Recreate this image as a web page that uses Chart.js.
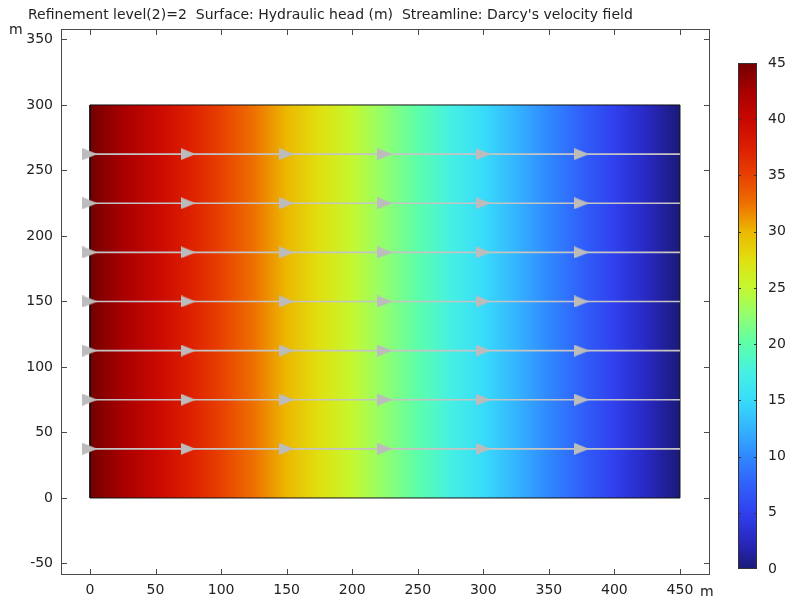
<!DOCTYPE html>
<html>
<head>
<meta charset="utf-8">
<script src="https://cdn.jsdelivr.net/npm/chart.js@4"></script>
<style>
  body { margin: 0; background: #fff; }
  #wrap { position: relative; width: 788px; height: 598px; }
  #wrap canvas { position: absolute; left: 0; top: 0; }
</style>
</head>
<body>
<div id="wrap">
  <canvas id="mainChart" width="788" height="598"></canvas>
  <canvas id="barChart" width="788" height="598"></canvas>
</div>
<script>
// domain and axes
const domainX = [0, 450];
const domainY = [0, 300];
const xTicks = [0, 50, 100, 150, 200, 250, 300, 350, 400, 450];
const yTicks = [-50, 0, 50, 100, 150, 200, 250, 300, 350];
const xRange = [-22.1, 472.9];
const yRange = [-58.8, 358];

// streamlines (Darcy's velocity field)
const streamY = [37.5, 75, 112.5, 150, 187.5, 225, 262.5];
const arrowX = [0, 75, 150, 225, 300, 375];

// hydraulic head colour scale
const headTicks = [0, 5, 10, 15, 20, 25, 30, 35, 40, 45];
const headRange = [0, 45];
const headStops = [
  [45, '#740000'], [42.5, '#a80000'], [40, '#c80800'], [37.5, '#dc1e00'],
  [35, '#e84000'], [32.5, '#ee7000'], [30, '#ecb800'], [27.5, '#e0e010'],
  [25, '#c4f830'], [22.5, '#90ff70'], [20, '#5cffaa'], [17.5, '#46f0e2'],
  [15, '#38dcfa'], [12.5, '#34b4ff'], [10, '#3088ff'], [7.5, '#3060fa'],
  [5, '#3040ee'], [2.5, '#2828c0'], [0, '#1a1a78']
];

const FONT = { family: 'DejaVu Sans', size: 14 };
const TXT = '#222';
const FRAME = '#4a4a4a';

function headGradient(ctx, p0, p1, horizontal) {
  // p0 = pixel of value 0, p1 = pixel of value 45
  const g = horizontal ? ctx.createLinearGradient(p0, 0, p1, 0) : ctx.createLinearGradient(0, p0, 0, p1);
  headStops.forEach(([v, c]) => g.addColorStop(v / headRange[1], c));
  return g;
}

// arrow head, centred on its bounding box like the COMSOL arrows
const arrow = document.createElement('canvas');
arrow.width = 15;
arrow.height = 12;
(function () {
  const c = arrow.getContext('2d');
  c.fillStyle = '#bcbcbc';
  c.beginPath();
  c.moveTo(0, 0);
  c.lineTo(15, 6);
  c.lineTo(0, 12);
  c.closePath();
  c.fill();
})();

const datasets = [];

streamY.forEach(y => {
  const pts = arrowX.map(x => ({ x: x, y: y }));
  pts.push({ x: domainX[1], y: y });
  datasets.push({
    data: pts,
    showLine: true,
    borderColor: '#c4c4c4',
    borderWidth: 1.6,
    pointStyle: (c) => (c.dataIndex < arrowX.length ? arrow : 'circle'),
    pointRadius: (c) => (c.dataIndex < arrowX.length ? 7 : 0),
    pointHoverRadius: 0
  });
});

// surface: last dataset so it is drawn underneath the streamlines
datasets.push({
  data: [
    { x: domainX[0], y: domainY[0] }, { x: domainX[1], y: domainY[0] },
    { x: domainX[1], y: domainY[1] }, { x: domainX[0], y: domainY[1] },
    { x: domainX[0], y: domainY[0] }
  ],
  showLine: true,
  fill: 'shape',
  borderColor: '#111',
  borderWidth: 1,
  pointRadius: 0,
  tension: 0,
  backgroundColor: (c) => {
    const ch = c.chart;
    if (!ch.chartArea) return '#888';
    // head drops linearly from 45 at x=0 to 0 at x=450
    return headGradient(ch.ctx, ch.scales.x.getPixelForValue(domainX[1]), ch.scales.x.getPixelForValue(domainX[0]), true);
  }
});

const frameTicks = {
  id: 'frameTicks',
  afterDraw(chart) {
    const { ctx, chartArea: a, scales } = chart;
    ctx.save();
    ctx.strokeStyle = FRAME;
    ctx.lineWidth = 1;
    ctx.strokeRect(a.left + 0.5, a.top + 0.5, a.right - a.left - 1, a.bottom - a.top - 1);
    ctx.beginPath();
    xTicks.forEach(v => {
      const px = Math.round(scales.x.getPixelForValue(v)) + 0.5;
      ctx.moveTo(px, a.bottom); ctx.lineTo(px, a.bottom - 6);
      ctx.moveTo(px, a.top); ctx.lineTo(px, a.top + 6);
    });
    yTicks.forEach(v => {
      const py = Math.round(scales.y.getPixelForValue(v)) + 0.5;
      ctx.moveTo(a.left, py); ctx.lineTo(a.left + 6, py);
      ctx.moveTo(a.right, py); ctx.lineTo(a.right - 6, py);
    });
    ctx.stroke();
    ctx.fillStyle = TXT;
    ctx.font = FONT.size + 'px ' + FONT.family;
    ctx.textBaseline = 'alphabetic';
    ctx.textAlign = 'left';
    ctx.fillText("Refinement level(2)=2  Surface: Hydraulic head (m)  Streamline: Darcy's velocity field", 28, 19);
    ctx.fillText('m', 9, 34);
    ctx.fillText('m', 700, 596);
    ctx.restore();
  }
};

new Chart(document.getElementById('mainChart'), {
  type: 'scatter',
  data: { datasets: datasets },
  options: {
    responsive: false,
    animation: false,
    events: [],
    layout: { padding: { left: 0, top: 29, right: 78, bottom: 0 } },
    plugins: { legend: { display: false }, tooltip: { enabled: false } },
    scales: {
      x: {
        type: 'linear', min: xRange[0], max: xRange[1],
        afterBuildTicks: (s) => { s.ticks = xTicks.map(v => ({ value: v })); },
        afterFit: (s) => { s.height = 23; },
        grid: { display: false, drawTicks: false },
        border: { display: false },
        ticks: { font: FONT, color: TXT, padding: 7, maxRotation: 0, autoSkip: false }
      },
      y: {
        type: 'linear', min: yRange[0], max: yRange[1],
        afterBuildTicks: (s) => { s.ticks = yTicks.map(v => ({ value: v })); },
        afterFit: (s) => { s.width = 61; },
        grid: { display: false, drawTicks: false },
        border: { display: false },
        ticks: { font: FONT, color: TXT, padding: 8, autoSkip: false }
      }
    }
  },
  plugins: [frameTicks]
});

// colour legend
const barTicks = {
  id: 'barTicks',
  afterDraw(chart) {
    const { ctx, chartArea: a, scales } = chart;
    ctx.save();
    ctx.strokeStyle = '#333';
    ctx.lineWidth = 1;
    ctx.strokeRect(a.left + 0.5, a.top + 0.5, a.right - a.left - 1, a.bottom - a.top - 1);
    ctx.beginPath();
    headTicks.forEach(v => {
      if (v === headRange[0] || v === headRange[1]) return;
      const py = Math.round(scales.y.getPixelForValue(v)) + 0.5;
      ctx.moveTo(a.left, py); ctx.lineTo(a.left + 3, py);
      ctx.moveTo(a.right, py); ctx.lineTo(a.right - 3, py);
    });
    ctx.stroke();
    ctx.restore();
  }
};

new Chart(document.getElementById('barChart'), {
  type: 'bar',
  data: {
    labels: [''],
    datasets: [{
      data: [headRange],
      barPercentage: 1,
      categoryPercentage: 1,
      borderWidth: 0,
      borderSkipped: false,
      backgroundColor: (c) => {
        const ch = c.chart;
        if (!ch.chartArea) return '#888';
        return headGradient(ch.ctx, ch.scales.y.getPixelForValue(headRange[0]), ch.scales.y.getPixelForValue(headRange[1]), false);
      }
    }]
  },
  options: {
    responsive: false,
    animation: false,
    events: [],
    layout: { padding: { left: 738, top: 63, right: 0, bottom: 29 } },
    plugins: { legend: { display: false }, tooltip: { enabled: false } },
    scales: {
      x: { display: false },
      y: {
        position: 'right',
        min: headRange[0], max: headRange[1],
        afterBuildTicks: (s) => { s.ticks = headTicks.map(v => ({ value: v })); },
        afterFit: (s) => { s.width = 31; },
        grid: { display: false, drawTicks: false },
        border: { display: false },
        ticks: { font: FONT, color: TXT, padding: 11, autoSkip: false }
      }
    }
  },
  plugins: [barTicks]
});
</script>
</body>
</html>
